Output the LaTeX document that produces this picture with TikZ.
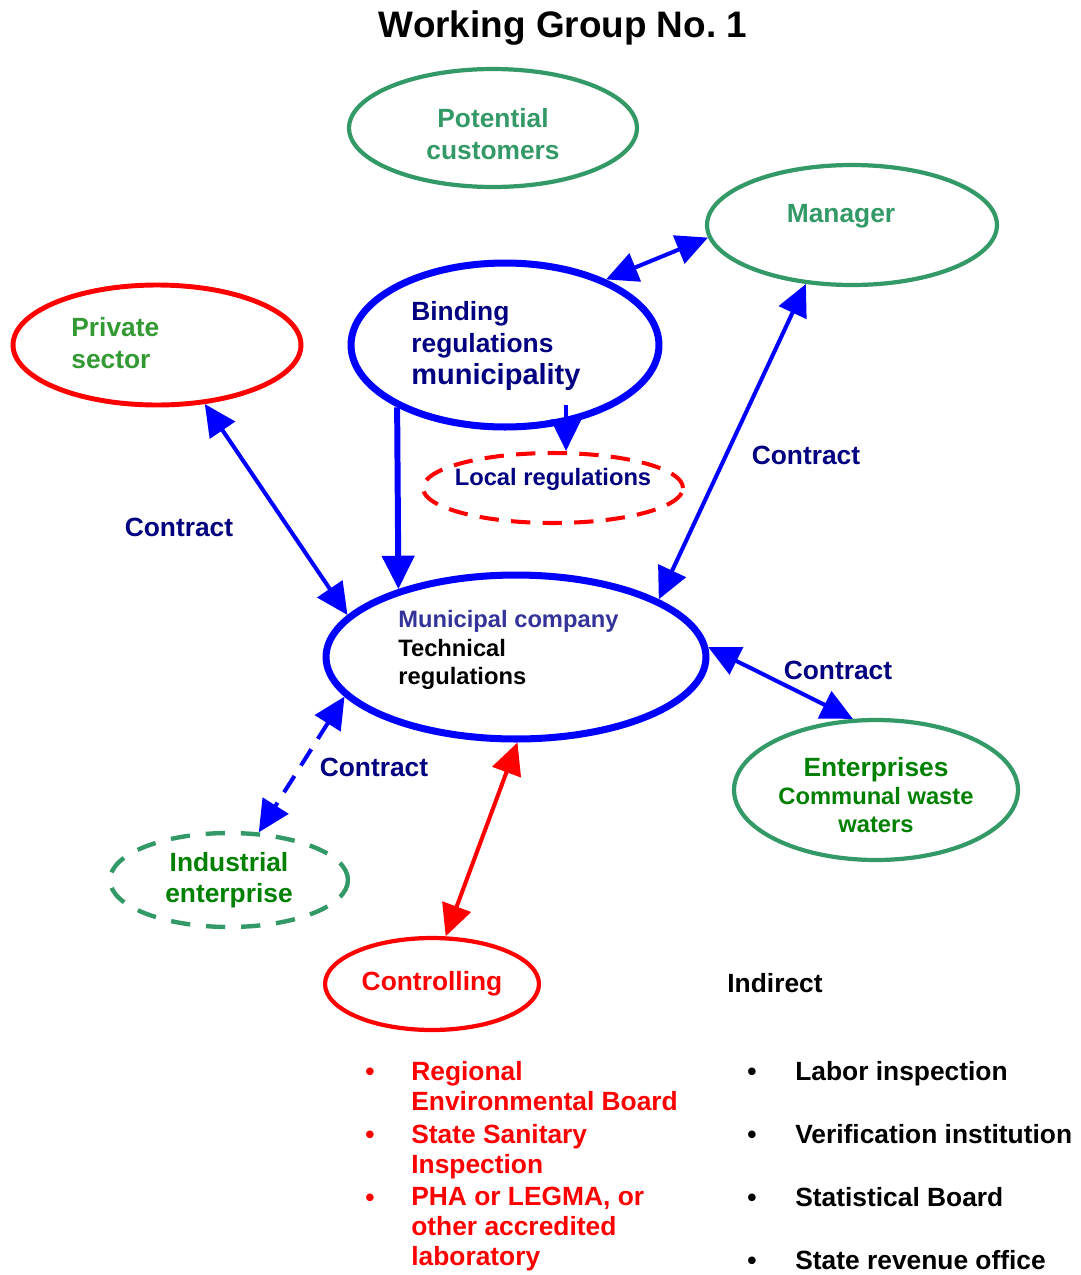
\documentclass[tikz,border=0pt]{standalone}
\usepackage{fontspec}
\setmainfont{Liberation Sans}
\usepackage{tikz}
\usetikzlibrary{shapes.geometric,arrows.meta}

\definecolor{wgblue}{HTML}{0000FF}
\definecolor{wgnavy}{HTML}{000080}
\definecolor{wggreen}{HTML}{339966}
\definecolor{wgleaf}{HTML}{339933}
\definecolor{wgdark}{HTML}{008000}
\definecolor{wgslate}{HTML}{333399}

\begin{document}
\begin{tikzpicture}[x=0.02cm, y=-0.02cm,
    oval/.style={ellipse, draw, inner sep=0pt, align=center},
    big/.style={font=\fontsize{15}{18}\selectfont\bfseries},
    small/.style={font=\fontsize{13.5}{16}\selectfont\bfseries},
    listtext/.style={font=\fontsize{15}{17}\selectfont\bfseries, inner sep=0pt},
    link/.style={draw=wgblue, line width=2.3pt,
      {Triangle[length=18pt,width=17pt]}-{Triangle[length=18pt,width=17pt]}},
    contract/.style={big, text=wgnavy}]

    \useasboundingbox (0,0) rectangle (1081,1275);

    \node[font=\fontsize{21}{25}\selectfont\bfseries, anchor=base] (title) at (563,37) {Working Group No.\ 1};



    \node[oval, draw=wggreen, line width=2.4pt, minimum width=5.76cm, minimum height=2.36cm] (potential) at (493,128) {};
    \node[big, text=wggreen, align=center] (potentialtext) at (493,134) {Potential\\customers};

    \node[oval, draw=wggreen, line width=2.4pt, minimum width=5.8cm, minimum height=2.4cm] (manager) at (852,225) {};
    \node[big, text=wggreen] (managertext) at (841,216) {Manager};

    \node[oval, draw=red, line width=2.8pt, minimum width=5.76cm, minimum height=2.4cm] (private) at (157,345) {};
    \node[big, text=wgleaf, align=left, anchor=west, inner sep=0pt] (privatetext) at (71,343) {Private\\sector};

    \node[oval, draw=wgblue, line width=4pt, minimum width=6.16cm, minimum height=3.28cm] (binding) at (505,345) {};
    \node[big, text=wgnavy, align=left, anchor=west, inner sep=0pt] (bindingtext) at (411,346)
      {Binding\\regulations\\{\fontsize{16.5}{19}\selectfont municipality}};

    \node[oval, draw=red, dash pattern=on 11pt off 7pt, line width=2.3pt,
      minimum width=5.2cm, minimum height=1.4cm] (local) at (553,488) {};
    \node[small, text=wgnavy] (localtext) at (553,479) {Local regulations};

    \node[oval, draw=wgblue, line width=4pt, minimum width=7.6cm, minimum height=3.28cm] (company) at (516,657) {};
    \node[small, align=left, anchor=west, inner sep=0pt] (companytext) at (398,650)
      {\textcolor{wgslate}{Municipal company}\\Technical\\regulations};

    \node[oval, draw=wggreen, line width=2.4pt, minimum width=5.68cm, minimum height=2.8cm] (enterprises) at (876,790) {};
    \node[small, text=wgdark, align=center] (enterprisestext) at (876,795)
      {{\fontsize{15}{17}\selectfont Enterprises}\\Communal waste\\waters};

    \node[oval, draw=wggreen, dash pattern=on 11pt off 9pt, line width=2.5pt,
      minimum width=4.76cm, minimum height=1.88cm, big, text=wgdark] (industrial) at (229,880)
      {Industrial\\enterprise};

    \node[oval, draw=red, line width=2.4pt, minimum width=4.28cm, minimum height=1.84cm,
      big, text=red] (controlling) at (432,984) {Controlling};



    \draw[link] (binding.33.7) -- (manager.185.5);

    \draw[link] (private.-51) -- (company.166);

    \draw[link] (manager.232) -- (company.22);

    \draw[link] (company.3) -- (enterprises.108);

    \draw[link, dash pattern=on 11pt off 7pt] (company.193) -- (industrial.58.8);

    \draw[link, draw=red] (company.271) -- (controlling.74.4);

    \draw[link, line width=3.4pt, -{Triangle[length=19pt,width=18pt]}] (binding.210) -- (company.150.6);

    \coordinate (bindingfoot) at (566,405);
    \draw[link, -{Triangle[length=18pt,width=17pt]}] (bindingfoot) -- (local.north -| bindingfoot);



    \node[contract] (contract1) at (179,527) {Contract};
    \node[contract] (contract2) at (806,455) {Contract};
    \node[contract] (contract3) at (838,670) {Contract};
    \node[contract] (contract4) at (374,767) {Contract};

    \node[big] (indirect) at (775,983) {Indirect};



    \node[listtext, text=red, align=left, anchor=north west] (control1) at (411,1061) {Regional\\Environmental Board};
    \node[listtext, text=red, align=left, anchor=north west] (control2) at (411,1124) {State Sanitary\\Inspection};
    \node[listtext, text=red, align=left, anchor=north west] (control3) at (411,1187) {PHA or LEGMA, or\\other accredited\\laboratory};

    \foreach \y [count=\i] in {1080,1143,1206}
      \node[listtext, text=red, anchor=base] (controlbullet\i) at (370,\y) {\textbullet};

    \foreach \y/\txt [count=\i] in {1080/Labor inspection, 1143/Verification institution,
        1206/Statistical Board, 1269/State revenue office} {
      \node[listtext, anchor=base west] (indirect\i) at (795,\y) {\txt};
      \node[listtext, anchor=base] (indirectbullet\i) at (752,\y) {\textbullet};
    }

  \end{tikzpicture}
\end{document}
